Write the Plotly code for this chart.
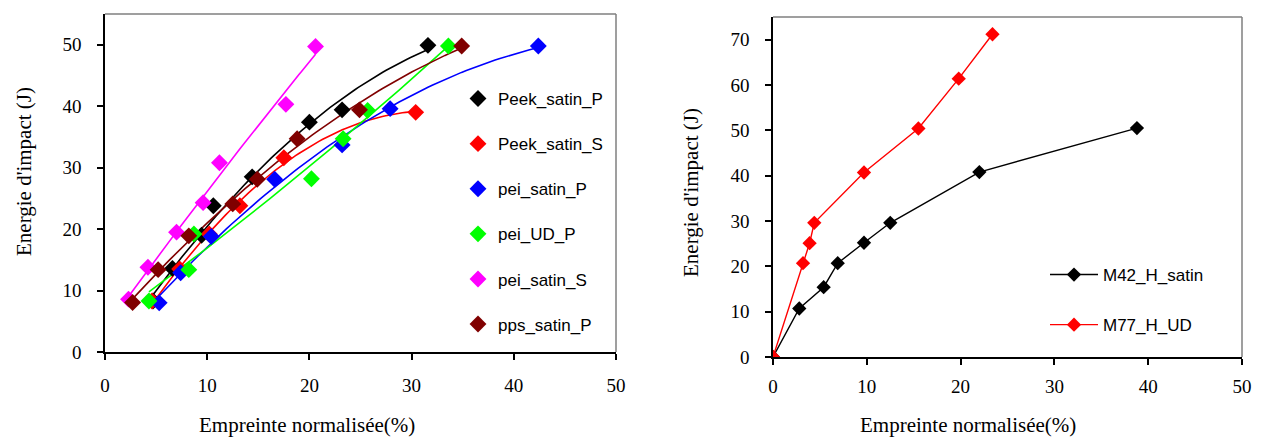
import numpy as np
import plotly.graph_objects as go

# ---------------- Left chart data ----------------
left_names = ["Peek_satin_P", "Peek_satin_S", "pei_satin_P", "pei_UD_P", "pei_satin_S", "pps_satin_P"]
left_colors = ["#000000", "#FF0000", "#0000FF", "#00FF00", "#FF00FF", "#800000"]

peek_satin_P_x = [4.7, 6.6, 9.45, 10.6, 14.4, 20.0, 23.2, 31.6]
peek_satin_P_y = [8.3, 13.6, 19.0, 23.8, 28.5, 37.4, 39.4, 49.9]

peek_satin_S_x = [4.6, 7.3, 10.2, 13.2, 17.5, 30.4]
peek_satin_S_y = [8.3, 13.5, 19.2, 23.8, 31.6, 39.0]

pei_satin_P_x = [5.3, 7.4, 10.4, 16.6, 23.2, 27.9, 42.4]
pei_satin_P_y = [8.0, 12.9, 18.8, 28.1, 33.7, 39.6, 49.8]

pei_UD_P_x = [4.3, 8.2, 8.7, 20.2, 23.3, 25.7, 33.6]
pei_UD_P_y = [8.3, 13.4, 19.2, 28.2, 34.7, 39.3, 49.8]

pei_satin_S_x = [2.3, 4.2, 7.0, 9.6, 11.2, 17.7, 20.6]
pei_satin_S_y = [8.6, 13.8, 19.5, 24.3, 30.8, 40.3, 49.7]

pps_satin_P_x = [2.7, 5.2, 8.2, 12.5, 14.9, 18.8, 24.9, 34.9]
pps_satin_P_y = [8.05, 13.4, 18.9, 24.1, 28.1, 34.7, 39.4, 49.8]

left_x = [peek_satin_P_x, peek_satin_S_x, pei_satin_P_x, pei_UD_P_x, pei_satin_S_x, pps_satin_P_x]
left_y = [peek_satin_P_y, peek_satin_S_y, pei_satin_P_y, pei_UD_P_y, pei_satin_S_y, pps_satin_P_y]

# ---------------- Right chart data ----------------
right_names = ["M42_H_satin", "M77_H_UD"]
right_colors = ["#000000", "#FF0000"]
m42_x = [0.0, 2.8, 5.4, 6.9, 9.7, 12.5, 22.0, 38.8]
m42_y = [0.0, 10.7, 15.4, 20.7, 25.2, 29.6, 40.8, 50.5]
m77_x = [0.0, 3.2, 3.9, 4.4, 9.7, 15.5, 19.8, 23.4]
m77_y = [0.0, 20.7, 25.1, 29.6, 40.7, 50.4, 61.4, 71.2]
right_x = [m42_x, m77_x]
right_y = [m42_y, m77_y]

x_ticks = [0, 10, 20, 30, 40, 50]
left_y_ticks = [0, 10, 20, 30, 40, 50]
right_y_ticks = [0, 10, 20, 30, 40, 50, 60, 70]

x_title = "Empreinte normalisée(%)"
y_title = "Energie d'impact (J)"

W, H = 1261, 442
fig = go.Figure()

# Trendlines (2nd order polynomial, as in the spreadsheet chart)
for xs, ys, c in zip(left_x, left_y, left_colors):
    coef = np.polyfit(xs, ys, 2)
    xx = np.linspace(min(xs), max(xs), 80)
    fig.add_trace(go.Scatter(x=xx, y=np.polyval(coef, xx), mode="lines",
                             line=dict(color=c, width=1.6), showlegend=False,
                             hoverinfo="skip", xaxis="x", yaxis="y"))
for i, (xs, ys, c, n) in enumerate(zip(left_x, left_y, left_colors, left_names)):
    fig.add_trace(go.Scatter(x=xs, y=ys, mode="markers", name=n,
                             marker=dict(symbol="diamond", size=13, color=c),
                             legendgroup=n, legend="legend", xaxis="x", yaxis="y"))

for xs, ys, c, n in zip(right_x, right_y, right_colors, right_names):
    fig.add_trace(go.Scatter(x=xs, y=ys, mode="lines+markers", name=n,
                             line=dict(color=c, width=1.4),
                             marker=dict(symbol="diamond", size=11, color=c),
                             legendgroup=n, legend="legend2", xaxis="x2", yaxis="y2"))

tickfont = dict(family="Liberation Serif", size=19, color="#000")
common = dict(showgrid=False, zeroline=False, showline=True, linecolor="#000", linewidth=1.5,
              ticks="outside", ticklen=6, tickcolor="#000", tickwidth=1.5, tickfont=tickfont,
              automargin=False)

lx0, lx1, ly0, ly1 = 105, 616, 352, 14
rx0, rx1, ry0, ry1 = 773, 1242, 357, 17

fig.update_layout(
    width=W, height=H, margin=dict(l=0, r=0, t=0, b=0, autoexpand=False),
    paper_bgcolor="white", plot_bgcolor="white",
    xaxis=dict(domain=[lx0 / W, lx1 / W], range=[0, 50], tickvals=x_ticks, anchor="y",
               ticklabelstandoff=9, **common),
    yaxis=dict(domain=[1 - ly0 / H, 1 - ly1 / H], range=[0, 55], tickvals=left_y_ticks, anchor="x",
               ticklabelstandoff=12, **common),
    xaxis2=dict(domain=[rx0 / W, rx1 / W], range=[0, 50], tickvals=x_ticks, anchor="y2",
                ticklabelstandoff=5, **common),
    yaxis2=dict(domain=[1 - ry0 / H, 1 - ry1 / H], range=[0, 75], tickvals=right_y_ticks, anchor="x2",
                ticklabelstandoff=12, **common),
    legend=dict(x=458 / W, y=1 - 81 / H, xanchor="left", yanchor="top", bgcolor="rgba(0,0,0,0)",
                font=dict(family="Liberation Sans", size=17, color="#000"), tracegroupgap=20,
                itemwidth=30),
    legend2=dict(x=1045 / W, y=1 - 257 / H, xanchor="left", yanchor="top", bgcolor="rgba(0,0,0,0)",
                 font=dict(family="Liberation Sans", size=17, color="#000"), tracegroupgap=25,
                 itemwidth=48),
    showlegend=True,
)

# Frame (top / right) lines in grey
for xr, yr in (("x domain", "y domain"), ("x2 domain", "y2 domain")):
    fig.add_shape(type="line", xref=xr, yref=yr, x0=0, x1=1, y0=1, y1=1,
                  line=dict(color="#7f7f7f", width=1.5))
    fig.add_shape(type="line", xref=xr, yref=yr, x0=1, x1=1, y0=0, y1=1,
                  line=dict(color="#7f7f7f", width=1.5))

titlefont = dict(family="Liberation Serif", size=21, color="#000")
fig.add_annotation(text=x_title, xref="paper", yref="paper", x=307 / W, y=1 - 425 / H,
                   showarrow=False, font=titlefont, xanchor="center", yanchor="middle")
fig.add_annotation(text=x_title, xref="paper", yref="paper", x=968 / W, y=1 - 425 / H,
                   showarrow=False, font=titlefont, xanchor="center", yanchor="middle")
fig.add_annotation(text=y_title, xref="paper", yref="paper", x=24 / W, y=1 - 172 / H,
                   showarrow=False, font=titlefont, textangle=-90, xanchor="center", yanchor="middle")
fig.add_annotation(text=y_title, xref="paper", yref="paper", x=691 / W, y=1 - 193 / H,
                   showarrow=False, font=titlefont, textangle=-90, xanchor="center", yanchor="middle")

fig.write_html("out.html", config={"displayModeBar": False},
               post_script="document.body.style.margin='0';document.body.style.overflow='hidden';")
